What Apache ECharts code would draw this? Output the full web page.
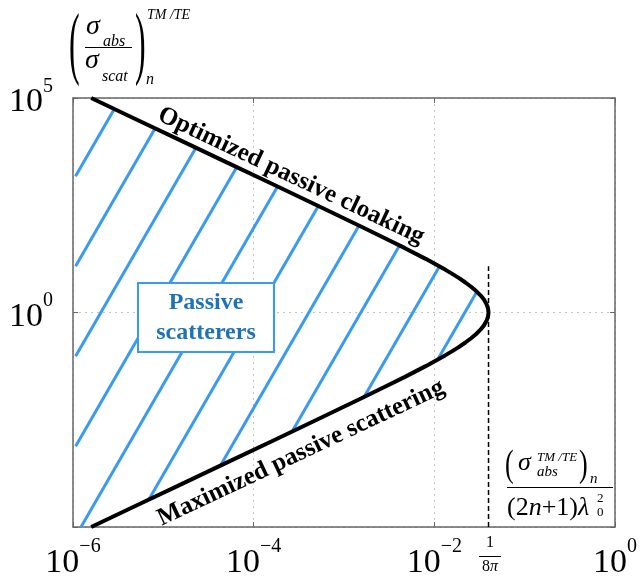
<!DOCTYPE html>
<html>
<head>
<meta charset="utf-8">
<title>Passive scatterers bound</title>
<script src="https://cdn.jsdelivr.net/npm/echarts@6/dist/echarts.min.js"></script>
<style>
html, body { margin: 0; height: 100%; background: #fff; }
#main { width: 640px; height: 581px; }
</style>
</head>
<body>
<div id="main"></div>
<script>
// bound curve: ratio sigma_abs/sigma_scat (y) against normalised absorption (x)
var ratio = [1e5, 3.16e4, 1e4, 3.16e3, 1e3, 316, 100, 56.2, 31.6, 17.8,
    10, 7.94, 6.31, 5.01, 3.98, 3.16, 2.51, 2.00, 1.58, 1.26,
    1, 0.794, 0.631, 0.501, 0.398, 0.316, 0.251, 0.200, 0.158, 0.126,
    0.1, 0.0562, 0.0316, 0.0178, 0.01, 3.16e-3, 1e-3, 3.16e-4, 1e-4, 3.16e-5, 1e-5];
var absNorm = [1.59e-6, 5.03e-6, 1.59e-5, 5.03e-5, 1.59e-4, 5.00e-4, 1.56e-3, 2.73e-3, 4.73e-3, 8.02e-3,
    0.01315, 0.01581, 0.01880, 0.02207, 0.02554, 0.02905, 0.03242, 0.03540, 0.03775, 0.03927,
    0.03979, 0.03927, 0.03775, 0.03540, 0.03242, 0.02905, 0.02554, 0.02207, 0.01880, 0.01581,
    0.01315, 8.02e-3, 4.73e-3, 2.73e-3, 1.56e-3, 5.00e-4, 1.59e-4, 5.03e-5, 1.59e-5, 5.03e-6, 1.59e-6];

// dashed limit line at 1/(8 pi)
var limitX = 0.0398;
var limitY = [1e-5, 12];

// decades shown on the axes
var xTickExp = [-6, -4, -2, 0];
var yTickExp = [5, 0];

var hatchGap = 52, hatchPhase = 8;

var chartDom = document.getElementById('main');
var myChart = echarts.init(chartDom);
var option;

var serif = '"Liberation Serif", "Times New Roman", serif';
var blue = '#3a9af0';

function lg(v) { return Math.log10(v); }

var curveData = ratio.map(function (r, i) {
    return [lg(absNorm[i]), lg(r)];
});

function powLabel(list) {
    return function (v) {
        if (list.indexOf(v) < 0) return '';
        return '{b|10}{s|' + (v < 0 ? '\u2212' : '') + Math.abs(v) + '}';
    };
}
var powRich = {
    b: { fontFamily: serif, fontSize: 34, color: '#000', padding: [9, 0, 0, 0] },
    s: { fontFamily: serif, fontSize: 20, color: '#000', verticalAlign: 'top' }
};

// blue 60 degree hatching inside the region left of the curve
function hatchItem(params, api) {
    var pts = curveData.map(function (d) { return api.coord(d); });
    var cs = params.coordSys;
    var left = cs.x + 2.5, top = cs.y, bottom = cs.y + cs.height;
    var k = Math.tan(Math.PI / 3);
    function curveX(y) {
        for (var i = 0; i < pts.length - 1; i++) {
            var a = pts[i], b = pts[i + 1];
            if (y >= a[1] && y <= b[1]) {
                var t = (y - a[1]) / ((b[1] - a[1]) || 1);
                return a[0] + t * (b[0] - a[0]);
            }
        }
        return -Infinity;
    }
    var children = [];
    for (var x0 = cs.x + hatchPhase - 10 * hatchGap; x0 < cs.x + cs.width; x0 += hatchGap) {
        var y1 = null, y2 = null;
        for (var y = bottom; y >= top; y -= 0.25) {
            var x = x0 + (bottom - y) / k;
            if (x >= left && x <= curveX(y)) {
                if (y1 === null) y1 = y;
                y2 = y;
            }
        }
        if (y1 !== null) {
            children.push({
                type: 'line',
                shape: { x1: x0 + (bottom - y1) / k, y1: y1, x2: x0 + (bottom - y2) / k, y2: y2 },
                style: { stroke: blue, lineWidth: 3 }
            });
        }
    }
    return { type: 'group', children: children };
}

function txt(x, y, s, font, extra) {
    var st = { text: s, font: font, fill: '#000', textAlign: 'left', align: 'left',
        textVerticalAlign: 'middle', verticalAlign: 'middle' };
    var el = { type: 'text', x: x, y: y, z: 100, style: st };
    if (extra) for (var key in extra) el[key] = extra[key];
    return el;
}
function ctxt(x, y, s, font) {
    return { type: 'text', x: x, y: y, z: 100,
        style: { text: s, font: font, fill: '#000', textAlign: 'center', align: 'center',
            textVerticalAlign: 'middle', verticalAlign: 'middle' } };
}
function hline(x1, x2, y, w) {
    return { type: 'line', z: 100, shape: { x1: x1, y1: y, x2: x2, y2: y },
        style: { stroke: '#000', lineWidth: w || 1.2 } };
}

var it = 'italic ';
var graphics = [
    // y axis title (sigma_abs / sigma_scat)_n ^ TM/TE
    txt(69, 48, '(', '32px ' + serif, { scaleY: 2.5 }),
    txt(86, 27, '\u03c3', it + '28px ' + serif),
    txt(103, 41.5, 'abs', it + '16px ' + serif),
    hline(85, 132, 47.5),
    txt(85, 60.5, '\u03c3', it + '28px ' + serif),
    txt(102, 76.5, 'scat', it + '16px ' + serif),
    txt(135, 48, ')', '32px ' + serif, { scaleY: 2.5 }),
    txt(146, 80, 'n', it + '16px ' + serif),
    txt(147, 15, 'TM /TE', it + '14px ' + serif),

    // x axis title (sigma_abs^TM/TE)_n / ((2n+1) lambda_0^2)
    txt(505, 466, '(', '26px ' + serif, { scaleY: 1.45 }),
    txt(518, 463.5, '\u03c3', it + '26px ' + serif),
    txt(537, 457.5, 'TM /TE', it + '13px ' + serif),
    txt(537, 472, 'abs', it + '15px ' + serif),
    txt(579, 466, ')', '26px ' + serif, { scaleY: 1.45 }),
    txt(590, 479, 'n', it + '15px ' + serif),
    hline(507, 613, 487.5),
    {
        type: 'text', x: 507, y: 508, z: 100,
        style: {
            text: '{r|(2}{i|n}{r|+1)}{i|\u03bb}',
            textVerticalAlign: 'middle', verticalAlign: 'middle',
            rich: {
                r: { fontFamily: serif, fontSize: 26, color: '#000' },
                i: { fontFamily: serif, fontSize: 26, fontStyle: 'italic', color: '#000' }
            }
        }
    },
    txt(597, 499, '2', '13px ' + serif),
    txt(597, 513, '0', '13px ' + serif),

    // 1/(8 pi) tick label
    ctxt(490, 543, '1', '16px ' + serif),
    hline(479, 501, 556.5, 1),
    {
        type: 'text', x: 490, y: 567, z: 100,
        style: {
            text: '{r|8}{i|\u03c0}', align: 'center', textAlign: 'center',
            verticalAlign: 'middle', textVerticalAlign: 'middle',
            rich: {
                r: { fontFamily: serif, fontSize: 16, color: '#000' },
                i: { fontFamily: serif, fontSize: 16, fontStyle: 'italic', color: '#000' }
            }
        }
    },

    // curve labels
    {
        type: 'text', x: 291, y: 176, rotation: -0.442, z: 100,
        style: { text: 'Optimized passive cloaking', font: 'bold 25px ' + serif, fill: '#000',
            textAlign: 'center', align: 'center', textVerticalAlign: 'middle', verticalAlign: 'middle' }
    },
    {
        type: 'text', x: 301, y: 453, rotation: 0.44, z: 100,
        style: { text: 'Maximized passive scattering', font: 'bold 25px ' + serif, fill: '#000',
            textAlign: 'center', align: 'center', textVerticalAlign: 'middle', verticalAlign: 'middle' }
    },

    // region label box
    {
        type: 'rect', z: 100,
        shape: { x: 138, y: 283, width: 136, height: 69 },
        style: { fill: '#fff', stroke: blue, lineWidth: 2 }
    },
    {
        type: 'text', x: 206, y: 318, z: 101,
        style: { text: 'Passive\nscatterers', font: 'bold 24px ' + serif, fill: '#1d72b8', lineHeight: 30,
            textAlign: 'center', align: 'center', textVerticalAlign: 'middle', verticalAlign: 'middle' }
    }
];

var axisLineStyle = { color: '#666', width: 1.5 };
var gridDots = { color: '#c4c4c4', width: 1, type: [2, 4] };
var tickStyle = { inside: true, length: 5, lineStyle: { color: '#666' } };

myChart.setOption(option = {
    animation: false,
    backgroundColor: '#fff',
    grid: { left: 73, right: 23, top: 98, bottom: 54, containLabel: false },
    xAxis: [{
        type: 'value', min: -6, max: 0, interval: 2, position: 'bottom',
        axisLine: { onZero: false, lineStyle: axisLineStyle },
        axisTick: tickStyle,
        splitLine: { show: true, lineStyle: gridDots },
        axisLabel: { margin: 10, formatter: powLabel(xTickExp), rich: powRich }
    }, {
        type: 'value', min: -6, max: 0, interval: 2, position: 'top',
        axisLine: { onZero: false, lineStyle: axisLineStyle },
        axisTick: tickStyle,
        splitLine: { show: false },
        axisLabel: { show: false }
    }],
    yAxis: [{
        type: 'value', min: -5, max: 5, interval: 5, position: 'left',
        axisLine: { onZero: false, lineStyle: axisLineStyle },
        axisTick: tickStyle,
        splitLine: { show: true, lineStyle: gridDots },
        axisLabel: { margin: 20, formatter: powLabel(yTickExp), rich: powRich }
    }, {
        type: 'value', min: -5, max: 5, interval: 5, position: 'right',
        axisLine: { onZero: false, lineStyle: axisLineStyle },
        axisTick: tickStyle,
        splitLine: { show: false },
        axisLabel: { show: false }
    }],
    series: [{
        type: 'custom',
        silent: true,
        z: 1,
        renderItem: hatchItem,
        data: [[0, 0]]
    }, {
        name: 'bound',
        type: 'line',
        data: curveData,
        showSymbol: false,
        silent: true,
        z: 3,
        lineStyle: { color: '#000', width: 4 }
    }, {
        name: 'limit',
        type: 'line',
        data: limitY.map(function (v) { return [lg(limitX), lg(v)]; }),
        showSymbol: false,
        silent: true,
        z: 2,
        lineStyle: { color: '#000', width: 1.5, type: [5, 3] }
    }],
    graphic: graphics
});

option && myChart.setOption(option);
</script>
</body>
</html>
